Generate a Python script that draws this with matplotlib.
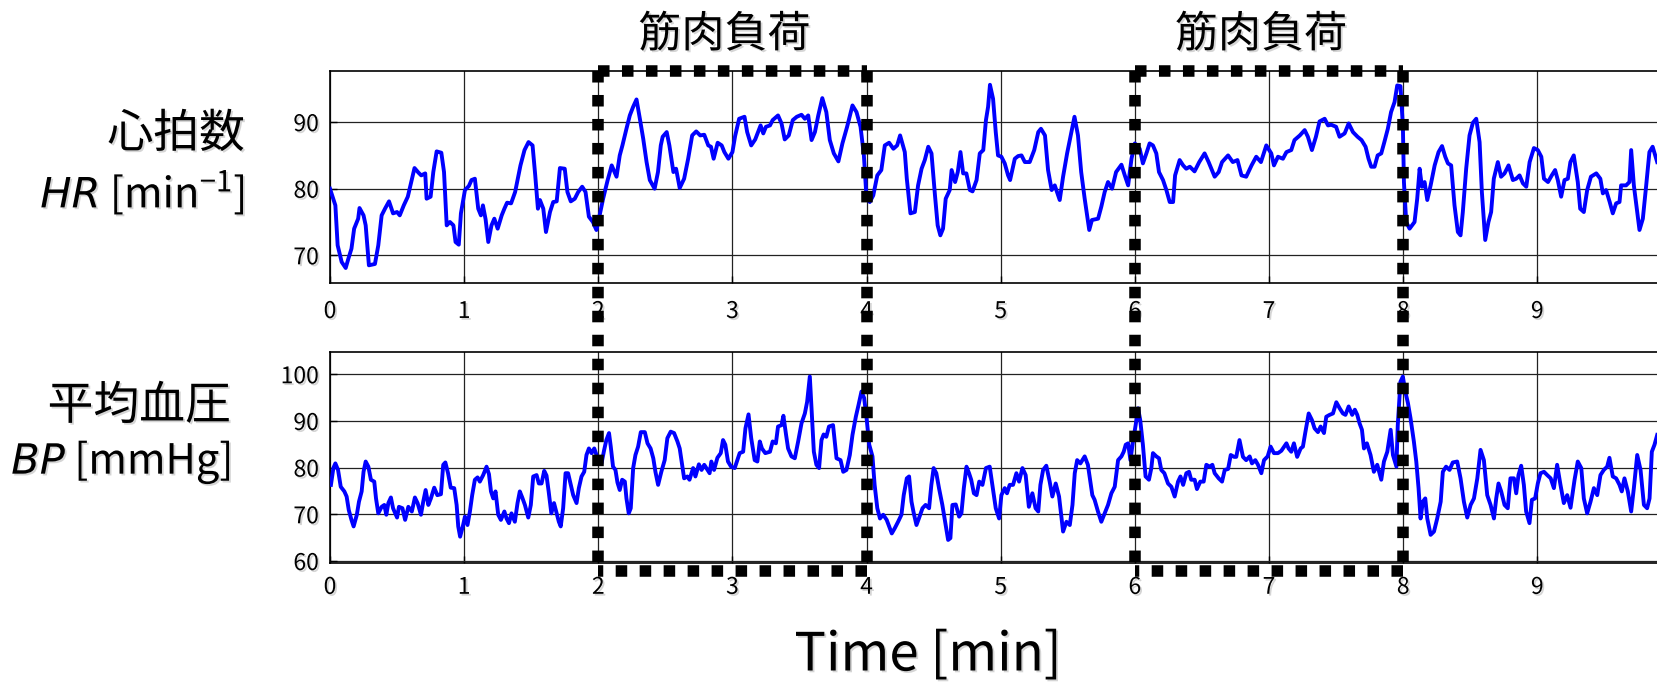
import matplotlib
matplotlib.use("Agg")
import matplotlib.pyplot as plt
import matplotlib.patheffects as pe
from matplotlib.lines import Line2D
from matplotlib.transforms import blended_transform_factory

plt.rcParams['font.family'] = ['Noto Sans CJK JP', 'DejaVu Sans']
plt.rcParams['mathtext.fontset'] = 'custom'
plt.rcParams['mathtext.it'] = 'DejaVu Sans:italic'
plt.rcParams['mathtext.rm'] = 'Noto Sans CJK JP'

# ---- data ----
hr_t = [0.0, 0.04, 0.057, 0.087, 0.117, 0.137, 0.16, 0.18, 0.21, 0.22, 0.25, 0.266, 0.29, 0.335,
        0.36, 0.385, 0.41, 0.44, 0.47, 0.50, 0.52, 0.55, 0.58, 0.60, 0.63, 0.66, 0.68, 0.71, 0.72,
        0.75, 0.77, 0.795, 0.83, 0.85, 0.87, 0.894, 0.92, 0.936, 0.96, 0.976, 1.006, 1.035, 1.055,
        1.08, 1.105, 1.125, 1.14, 1.16, 1.18, 1.204, 1.225, 1.25, 1.28, 1.30, 1.32, 1.35, 1.38,
        1.40, 1.42, 1.45, 1.48, 1.51, 1.53, 1.55, 1.565, 1.59, 1.61, 1.64, 1.664, 1.69, 1.714,
        1.75, 1.77, 1.795, 1.825, 1.85, 1.88, 1.905, 1.93, 1.96, 1.986, 2.01, 2.036, 2.07, 2.10,
        2.136, 2.16, 2.18, 2.21, 2.235, 2.26, 2.285, 2.31, 2.335, 2.36, 2.384, 2.42, 2.445, 2.466,
        2.48, 2.51, 2.53, 2.56, 2.58, 2.607, 2.64, 2.67, 2.70, 2.73, 2.76, 2.79, 2.82, 2.84, 2.86,
        2.89, 2.92, 2.94, 2.97, 3.0, 3.02, 3.05, 3.09, 3.11, 3.14, 3.17, 3.21, 3.23, 3.25,
        3.28, 3.30, 3.34, 3.366, 3.39, 3.42, 3.45, 3.48, 3.515, 3.54, 3.565, 3.59, 3.615, 3.64,
        3.67, 3.70, 3.726, 3.756, 3.79, 3.82, 3.855, 3.895, 3.925, 3.955, 3.98, 4.0, 4.024, 4.05,
        4.08, 4.11, 4.136, 4.168, 4.20, 4.228, 4.25, 4.285, 4.30, 4.327, 4.36, 4.384, 4.41, 4.434,
        4.46, 4.484, 4.51, 4.53, 4.55, 4.57, 4.59, 4.62, 4.634, 4.66, 4.68, 4.70, 4.72, 4.744,
        4.77, 4.79, 4.82, 4.844, 4.87, 4.89, 4.906, 4.92, 4.943, 4.963, 4.98, 5.005, 5.03, 5.055,
        5.07, 5.105, 5.13, 5.155, 5.18, 5.216, 5.25, 5.28, 5.30, 5.33, 5.353, 5.38, 5.403, 5.44,
        5.465, 5.495, 5.527, 5.55, 5.576, 5.60, 5.626, 5.66, 5.68, 5.726, 5.75, 5.775, 5.80, 5.83,
        5.86, 5.90, 5.925, 5.95, 5.975, 6.0, 6.036, 6.06, 6.086, 6.11, 6.135, 6.16, 6.18, 6.21,
        6.235, 6.26, 6.285, 6.30, 6.334, 6.36, 6.383, 6.41, 6.445, 6.48, 6.52, 6.55,
        6.595, 6.625, 6.65, 6.695, 6.73, 6.765, 6.795, 6.83, 6.87, 6.905, 6.94, 6.98, 7.017, 7.037,
        7.067, 7.104, 7.13, 7.166, 7.19, 7.23, 7.266, 7.29, 7.32, 7.35, 7.377, 7.415, 7.44, 7.464,
        7.50, 7.526, 7.564, 7.594, 7.626, 7.66, 7.69, 7.72, 7.742, 7.762, 7.787, 7.81, 7.837, 7.86,
        7.886, 7.91, 7.936, 7.956, 7.98, 7.998, 8.006, 8.023, 8.048, 8.085, 8.105, 8.123, 8.14,
        8.16, 8.18, 8.205, 8.235, 8.264, 8.29, 8.314, 8.334, 8.358, 8.383, 8.408, 8.428, 8.445,
        8.47, 8.495, 8.52, 8.545, 8.57, 8.587, 8.612, 8.636, 8.656, 8.676, 8.706, 8.73, 8.756,
        8.786, 8.818, 8.843, 8.868, 8.893, 8.918, 8.943, 8.975, 9.004, 9.03, 9.05, 9.08, 9.108,
        9.133, 9.153, 9.178, 9.203, 9.228, 9.247, 9.272, 9.302, 9.32, 9.347, 9.372, 9.40, 9.44,
        9.47, 9.489, 9.513, 9.54, 9.563, 9.588, 9.613, 9.625, 9.662, 9.687, 9.70, 9.72, 9.745,
        9.762, 9.787, 9.812, 9.836, 9.86, 9.894]
hr_v = [80, 77.5, 71.5, 69, 68.1, 69.5, 71, 74, 75.5, 77.1, 76, 74.5, 68.5, 68.7,
        71.5, 76, 77, 78.1, 76.3, 76.5, 76, 77.5, 78.8, 80.5, 83.1, 82.4, 82, 82.3, 78.5,
        78.8, 82.5, 85.6, 85.4, 82.5, 74.5, 75, 74.5, 72, 71.6, 76.3, 79.8, 80.4, 81.3,
        81.5, 77, 76, 77.5, 75.4, 72, 74.5, 75.5, 74, 76, 77, 77.9, 77.8, 79.5,
        81.5, 83.5, 85.8, 87, 86.5, 82, 77, 78.3, 77, 73.5, 76.5, 78, 78.1, 83.1,
        83, 79.5, 78.1, 78.5, 79.5, 80.3, 79.5, 75.8, 75, 73.8, 76, 78.5, 81.3, 83.5,
        81.8, 85, 86.5, 89, 91, 92.3, 93.4, 90.5, 87.5, 84, 81.3, 80, 82.5, 86.5,
        87.8, 88.5, 86.5, 82.5, 83, 80.1, 81.5, 84.5, 88, 88.6, 88, 88.1, 86.5, 86.3, 84.5,
        86.9, 86.5, 85.5, 84.5, 85.5, 87.9, 90.5, 90.8, 88.5, 86.5, 87.4, 89.5, 88.3, 89.3,
        89.5, 90.3, 91, 89.8, 87.4, 88, 90.3, 90.8, 91.1, 90.5, 91, 87.3, 88.5, 91,
        93.6, 91.5, 87.3, 85.3, 84.1, 86.8, 89.3, 92.5, 91.5, 89.3, 85, 78.5, 78, 79,
        82, 82.8, 86.5, 86.9, 86, 86.5, 88, 85.5, 81.5, 76.3, 76.5, 80.5, 83, 84.3,
        86.3, 85.3, 79, 74.5, 73, 74, 78.5, 79.8, 82.8, 81, 82.5, 85.5, 82.3, 82.3,
        79.8, 79.6, 81.3, 85.3, 85.8, 90.3, 92.3, 95.6, 93.5, 88.5, 85, 84.8, 83.8, 82,
        81.3, 84.5, 84.9, 85, 84, 84, 85.8, 88.5, 89, 88, 82.8, 79.8, 80.5, 78.3,
        81.8, 85.3, 88.5, 90.8, 88, 82.5, 78.5, 73.8, 75.3, 75.5, 77.3, 79.5, 81, 80,
        82.5, 83.6, 82, 80.5, 84.5, 86.8, 86, 83.8, 85.3, 86.8, 86.5, 85.3, 82.5, 81.3,
        79.8, 78, 78, 82, 84.3, 83.5, 83, 83.3, 82.6, 84, 85.3, 84,
        81.8, 82.5, 84, 85, 84, 84.3, 82, 81.8, 83.5, 84.8, 84, 86.5, 85.3, 83.5,
        84.8, 84.5, 85.5, 85.8, 87.3, 88, 88.8, 87.8, 85.8, 87.8, 90.1, 90.5, 89.5, 89.6,
        89.3, 87.8, 88.3, 89.8, 88.5, 87.8, 87.3, 86.3, 84.5, 83.3, 83.3, 85, 85.3, 87,
        89, 91.5, 93, 95.5, 95.4, 89.5, 81, 75, 74, 75, 78.5, 83, 80.3,
        81, 78.3, 80.5, 83.5, 85.5, 86.4, 84.8, 83.8, 83.5, 77.5, 73.5, 73, 76.5,
        83, 88, 89.9, 90.5, 87, 79.5, 72.3, 75, 76.5, 81.5, 84, 81.8, 82.3,
        83.5, 81.3, 81.5, 82, 80.8, 80.3, 84, 86.1, 85.8, 84.8, 81.5, 81, 82,
        82.8, 81.3, 78.8, 81.3, 81.5, 84, 85, 81, 77, 76.5, 79.8, 81.8, 82.3,
        81.5, 79.3, 79.8, 78, 76.3, 77.8, 78, 80.5, 80.5, 81, 85.8, 80.5, 76.5,
        73.8, 75.5, 80.5, 85.5, 86.3, 84]

bp_t = [0.007, 0.025, 0.04, 0.06, 0.08, 0.107, 0.124, 0.14, 0.16, 0.176, 0.2, 0.216, 0.236, 0.25,
        0.266, 0.286, 0.305, 0.33, 0.343, 0.36, 0.385, 0.405, 0.42, 0.435, 0.454, 0.47, 0.50,
        0.514, 0.54, 0.56, 0.584, 0.61, 0.633, 0.653, 0.678, 0.695, 0.713, 0.733, 0.752, 0.777,
        0.80, 0.827, 0.844, 0.86, 0.88, 0.90, 0.926, 0.944, 0.956, 0.97, 0.99, 1.006, 1.025,
        1.043, 1.06, 1.08, 1.10, 1.117, 1.142, 1.167, 1.185, 1.20, 1.217, 1.234, 1.254, 1.274,
        1.30, 1.316, 1.334, 1.353, 1.378, 1.398, 1.415, 1.433, 1.453, 1.478, 1.497, 1.515, 1.54,
        1.557, 1.577, 1.597, 1.614, 1.63, 1.65, 1.67, 1.69, 1.706, 1.72, 1.738, 1.756, 1.775,
        1.795, 1.813, 1.838, 1.855, 1.875, 1.895, 1.912, 1.93, 1.95, 1.97, 1.987, 2.004, 2.024,
        2.044, 2.06, 2.08, 2.093, 2.11, 2.128, 2.143, 2.16, 2.178, 2.198, 2.21, 2.227, 2.242,
        2.26, 2.277, 2.297, 2.317, 2.347, 2.367, 2.39, 2.41, 2.426, 2.446, 2.47, 2.495, 2.515,
        2.54, 2.565, 2.59, 2.607, 2.625, 2.64, 2.664, 2.68, 2.707, 2.724, 2.75, 2.77, 2.79,
        2.814, 2.83, 2.843, 2.863, 2.888, 2.913, 2.93, 2.947, 2.967, 2.99, 3.017, 3.037, 3.054,
        3.08, 3.097, 3.12, 3.14, 3.166, 3.186, 3.204, 3.22, 3.245,
        3.28, 3.30, 3.324, 3.34, 3.366, 3.38, 3.40, 3.415, 3.44, 3.465, 3.49, 3.515, 3.54,
        3.557, 3.577, 3.59, 3.607, 3.626, 3.646, 3.664, 3.68, 3.70, 3.72, 3.75, 3.776, 3.806,
        3.826, 3.85, 3.875, 3.895, 3.92, 3.94, 3.962, 3.982, 4.0, 4.02, 4.044, 4.06, 4.08,
        4.10, 4.124, 4.15, 4.168, 4.188, 4.21, 4.235, 4.26, 4.277, 4.30, 4.317, 4.335, 4.352,
        4.372, 4.39, 4.417, 4.44, 4.466, 4.483, 4.50, 4.52, 4.54, 4.565, 4.59, 4.608, 4.625,
        4.64, 4.665, 4.69, 4.707, 4.725, 4.745, 4.764, 4.78, 4.80, 4.82, 4.84, 4.864, 4.89,
        4.918, 4.938, 4.963, 4.988, 5.005, 5.03, 5.047, 5.067, 5.092, 5.117, 5.137, 5.162,
        5.186, 5.21, 5.236, 5.26, 5.28, 5.296, 5.316, 5.34, 5.365, 5.385, 5.41, 5.435, 5.465,
        5.49, 5.515, 5.535, 5.552, 5.57, 5.594, 5.626, 5.65, 5.668, 5.683, 5.70, 5.725, 5.75,
        5.775, 5.80, 5.825, 5.85, 5.875, 5.90, 5.917, 5.932, 5.95, 5.967, 5.986, 6.006, 6.024,
        6.04, 6.06, 6.08, 6.105, 6.123, 6.135, 6.16, 6.18, 6.197, 6.22, 6.247, 6.272, 6.297,
        6.322, 6.34, 6.36, 6.384, 6.404, 6.42, 6.446, 6.463, 6.488, 6.513, 6.533, 6.558, 6.578,
        6.595, 6.625, 6.65, 6.67, 6.695, 6.715, 6.74, 6.756, 6.78, 6.806, 6.83, 6.856, 6.873,
        6.898, 6.918, 6.943, 6.963, 6.99, 7.012, 7.037, 7.067, 7.092, 7.13, 7.146, 7.166, 7.186,
        7.21, 7.236, 7.253, 7.27, 7.296, 7.32, 7.34, 7.365, 7.385, 7.41, 7.427, 7.452, 7.477,
        7.502, 7.527, 7.551, 7.57, 7.594, 7.62, 7.64, 7.658, 7.675, 7.693, 7.708, 7.73, 7.757,
        7.782, 7.807, 7.837, 7.857, 7.882, 7.907, 7.924, 7.95, 7.96, 7.98, 7.998, 8.016, 8.036,
        8.055, 8.08, 8.098, 8.115, 8.13, 8.147, 8.165, 8.18, 8.205, 8.23, 8.254, 8.28, 8.296,
        8.32, 8.346, 8.37, 8.403, 8.428, 8.453, 8.478, 8.503, 8.528, 8.553, 8.577, 8.602, 8.627,
        8.652, 8.677, 8.694, 8.711, 8.731, 8.756, 8.78, 8.8, 8.826, 8.843, 8.86, 8.88, 8.9,
        8.917, 8.942, 8.96, 8.984, 9.004, 9.024, 9.05, 9.074, 9.1, 9.124, 9.148, 9.173, 9.198,
        9.223, 9.248, 9.278, 9.302, 9.328, 9.347, 9.372, 9.397, 9.422, 9.447, 9.471, 9.496,
        9.521, 9.538, 9.563, 9.588, 9.613, 9.63, 9.65, 9.675, 9.7, 9.72, 9.745, 9.77, 9.795,
        9.819, 9.837, 9.854, 9.874, 9.894]
bp_v = [76.3, 79.9, 80.9, 79.5, 75.9, 74.9, 73.8, 70.9, 68.8, 67.4, 69.9, 72.7, 74.9, 79.1,
        81.3, 80.2, 77.4, 77, 73.4, 70.2, 71.6, 72, 69.9, 72.4, 73.6, 71.3, 69.3,
        71.6, 71.3, 68.8, 71.6, 70.6, 73.6, 72.4, 69.9, 72.7, 75.2, 72, 73.4, 75.7,
        74.1, 74.3, 80.6, 81.1, 78.8, 75.7, 75.6, 72, 67.4, 65.2, 67.4, 69.5, 67.7,
        70.6, 74.1, 77.4, 77.9, 77, 78.4, 80.2, 78.6, 74.9, 73.4, 74.9, 69.9, 68.8,
        70.6, 69.1, 68.1, 70.2, 68.4, 72.4, 74.9, 73.6, 72, 69.3, 72, 78.1, 78.4,
        76.6, 76.6, 79.3, 78.3, 74.9, 70.2, 72.4, 70.2, 68.4, 67.4, 71.3, 78.8, 78.8,
        76.3, 74.1, 72.4, 75.6, 78.1, 79.1, 82.7, 84.1, 83.1, 84.1, 82.7, 81.6, 80.9,
        83.8, 85.9, 87.4, 84.5, 80.2, 79.5, 76.8, 75.2, 77.4, 77, 73.4, 70.2, 71.3,
        79.9, 82.7, 84.5, 87.6, 87.6, 85.2, 84.1, 82, 79.1, 76.3, 79.1, 81.6, 86.3,
        87.7, 87.4, 85.6, 84.1, 80.6, 77.7, 78.1, 77.4, 79.9, 78.1, 80.7, 79.5, 80.6,
        79.5, 78.8, 81.3, 79.5, 82.1, 83.1, 85.9, 84.9, 81.3, 80.2, 79.9, 81.6, 83.1,
        83.4, 88.4, 91.4, 86.3, 81.6, 81.3, 85.6, 84.1, 83.1,
        83.4, 85.6, 85.2, 88.8, 89.1, 91.1, 87, 84.1, 82.4, 82, 85.6, 89.5, 91.6,
        94.1, 99.5, 92.7, 83.4, 80.6, 79.9, 85.9, 87.1, 86.6, 88.8, 89.1, 82, 81.6,
        79.1, 79.5, 82.7, 87, 90.9, 93.4, 96.3, 94.9, 90.6, 84.9, 82.4, 76.3, 71.3,
        69.1, 69.9, 68.8, 67.4, 65.9, 67, 68.4, 69.9, 74.1, 77.7, 78.1, 72.7, 70.2,
        67.7, 69.1, 71.3, 72, 71.3, 76.3, 79.9, 78.8, 75.6, 72, 67.7, 64.5, 64.9,
        72, 72.1, 69.5, 70.2, 75.6, 80.2, 78.8, 77.4, 74.5, 74.1, 77, 76.3, 79.9,
        80.2, 76.3, 71.3, 69.1, 74.1, 75.6, 74.5, 76.3, 76.3, 78.8, 77, 79.9,
        78.4, 71.6, 74.5, 71.3, 70.6, 76.3, 79.5, 80.4, 77, 73.8, 76.6, 73.8, 66.3,
        68.4, 67.7, 72, 78.8, 81.6, 80.9, 82.4, 80.6, 77, 74.1, 73.1, 70.6, 68.4,
        70.2, 72, 74.5, 75.9, 81.6, 82.4, 83.4, 84.9, 85.2, 81.6, 85.6, 89.1, 92.7,
        90.2, 84.9, 78.1, 77.4, 79.9, 83.1, 82.4, 82, 79.5, 78.8, 76.6, 75.9, 73.8,
        77, 78.1, 76.3, 78.8, 79.1, 77.4, 77.4, 75.4, 77, 77, 80.6, 80.2, 80.6,
        78.8, 77.7, 77, 79.5, 79.7, 82.7, 82.3, 82.3, 85.9, 82.3, 81.6, 82.4, 80.9,
        81.6, 80.6, 78.8, 81.6, 82.4, 84.5, 83.1, 83.1, 83.6, 85.2, 84.1, 83.4, 85.2,
        82.3, 84.1, 84.5, 87.4, 91.6, 90.2, 88.4, 87.6, 88.8, 87.4, 90.9, 91.3, 91.6,
        94, 92.7, 91.6, 91.3, 93.1, 91.3, 92.4, 91.3, 89.5, 88.1, 84.1, 85.2, 82.7,
        79.1, 80.6, 77.4, 81.3, 83.4, 88.1, 82.7, 80.2, 89.1, 98.4, 99.5, 96.3, 93.8,
        90.6, 85.6, 81.3, 75.6, 69.1, 72.7, 73.4, 69.1, 65.6, 66.3, 69.1, 72.7, 79.1,
        80.2, 79.5, 81.1, 81.3, 77.7, 72.7, 69.3, 72, 73.4, 77.7, 83.8, 81.6, 74.1,
        72, 69.1, 73.4, 76.6, 74.9, 72, 71.3, 77.7, 77.7, 74.5, 78.4, 80.4, 76.3,
        70.6, 68.1, 73.1, 73.4, 76.6, 78.8, 79.1, 78.4, 77.7, 75.6, 80.6, 76.3, 72.4,
        74.1, 71.4, 77.4, 81.3, 79.9, 73.4, 70.2, 72.7, 75.6, 74.1, 78.4, 79.5,
        80.2, 82.1, 78.1, 77.7, 76.3, 74.9, 77.7, 74.9, 70.6, 75.6, 82.7, 79.5, 72,
        71.3, 73.4, 83.4, 84.9, 87]

load_periods = [(2, 4), (6, 8)]
load_label = '筋肉負荷'
x_ticks = list(range(10))
hr_ticks = [70, 80, 90]
bp_ticks = [60, 70, 80, 90, 100]

# ---- layout (pixel geometry of the 1658x682 reference) ----
W, H = 1658, 682
fig = plt.figure(figsize=(W / 100, H / 100), dpi=100)

left = 330
ax_hr = fig.add_axes([left / W, 1 - 283.3 / H, 1 - left / W, (283.3 - 70.8) / H])
ax_bp = fig.add_axes([left / W, 1 - 563.3 / H, 1 - left / W, (563.3 - 352.3) / H])

shadow = [pe.withSimplePatchShadow(offset=(1.3, -1.3), shadow_rgbFace='#888888', alpha=0.35)]


def style_axis(ax, yticks, ylim, xpad):
    ax.set_xlim(0, 9.9)
    ax.set_ylim(*ylim)
    ax.set_xticks(x_ticks)
    ax.set_yticks(yticks)
    ax.grid(True, color='#222222', lw=0.9)
    ax.tick_params(direction='in', length=5, width=1, labelsize=16.5)
    ax.tick_params(axis='x', pad=xpad)
    ax.tick_params(axis='y', pad=8)
    ax.spines['right'].set_visible(False)
    for s in ('left', 'top', 'bottom'):
        ax.spines[s].set_linewidth(1.2)
    for lab in ax.get_xticklabels() + ax.get_yticklabels():
        lab.set_path_effects(shadow)


ax_hr.plot(hr_t, hr_v, color='#0000ff', lw=2.8, zorder=3)
ax_bp.plot(bp_t, bp_v, color='#0000ff', lw=2.8, zorder=3)
style_axis(ax_hr, hr_ticks, (65.8, 97.7), 12)
style_axis(ax_bp, bp_ticks, (59.5, 104.7), 9)

# dotted boxes marking the load periods, spanning both panels
# each edge drawn on its own so every top corner starts with a dot
trans = blended_transform_factory(ax_hr.transData, fig.transFigure)
y_top = 1 - 70.5 / H
y_bot = 1 - 571 / H
for x0, x1 in load_periods:
    edges = [([x0, x0], [y_top, y_bot]),
             ([x0, x1], [y_top, y_top]),
             ([x1, x1], [y_top, y_bot]),
             ([x1, x0], [y_bot, y_bot])]
    for xs, ys in edges:
        fig.add_artist(Line2D(xs, ys, transform=trans, color='black', lw=8.3,
                              linestyle=(0, (1, 1.08)), dash_capstyle='butt',
                              clip_on=False, zorder=5))
    fig.text((x0 + x1) / 2 - 0.06, 1 - 35 / H, load_label, transform=trans,
             ha='center', va='center', fontsize=31, path_effects=shadow)

# row labels on the left
fig.text(245 / W, 1 - 134 / H, '心拍数', ha='right', va='center', fontsize=33,
         path_effects=shadow)
fig.text(245 / W, 1 - 193 / H, r'$\mathit{HR}$ [min$^{\mathrm{-1}}$]', ha='right',
         va='center', fontsize=30, path_effects=shadow)
fig.text(231 / W, 1 - 406 / H, '平均血圧', ha='right', va='center', fontsize=33,
         path_effects=shadow)
fig.text(231 / W, 1 - 463 / H, r'$\mathit{BP}$ [mmHg]', ha='right', va='center',
         fontsize=30, path_effects=shadow)

fig.text(928 / W, 1 - 655 / H, 'Time [min]', ha='center', va='center', fontsize=38,
         path_effects=shadow)

fig.savefig('out.png', dpi=100)
